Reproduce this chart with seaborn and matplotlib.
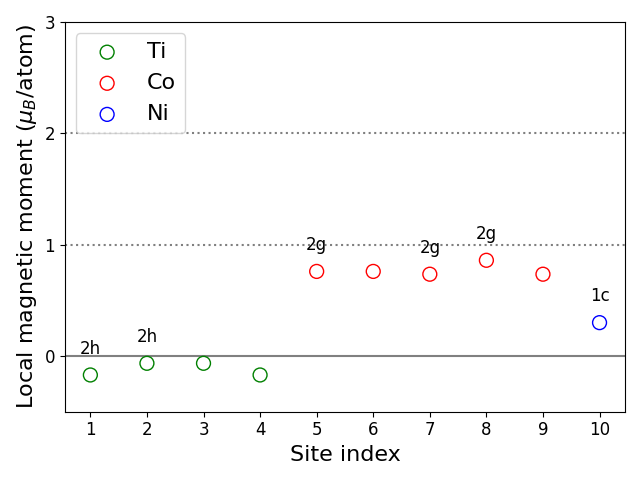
import matplotlib
matplotlib.use("Agg")
import matplotlib.pyplot as plt
import seaborn as sns
import pandas as pd

sites = [1, 2, 3, 4, 5, 6, 7, 8, 9, 10]
moments = [-0.17, -0.065, -0.065, -0.17, 0.76, 0.76, 0.735, 0.86, 0.735, 0.30]
elements = ["Ti", "Ti", "Ti", "Ti", "Co", "Co", "Co", "Co", "Co", "Ni"]
elem_colors = {"Ti": "green", "Co": "red", "Ni": "blue"}

label_sites = [1, 2, 5, 7, 8, 10]
label_texts = ["2h", "2h", "2g", "2g", "2g", "1c"]

df = pd.DataFrame({"site": sites, "moment": moments, "element": elements})

fig, ax = plt.subplots(figsize=(6.4, 4.8), dpi=100)

ax.axhline(0, color="gray", lw=1.5, zorder=1)
ax.axhline(1, color="gray", lw=1.5, ls=":", zorder=1)
ax.axhline(2, color="gray", lw=1.5, ls=":", zorder=1)

for el in ["Ti", "Co", "Ni"]:
    sub = df[df["element"] == el]
    sns.scatterplot(data=sub, x="site", y="moment", ax=ax, s=100,
                    facecolors="none", edgecolor=elem_colors[el],
                    linewidth=1.0, label=el, zorder=3)

for s, t in zip(label_sites, label_texts):
    m = moments[sites.index(s)]
    ax.text(s, m + 0.235, t, ha="center", va="center", fontsize=12)

ax.set_xlim(0.55, 10.45)
ax.set_ylim(-0.5, 3)
ax.set_xticks(sites)
ax.set_yticks([0, 1, 2, 3])
ax.tick_params(labelsize=12)
ax.set_xlabel("Site index", fontsize=16)
ax.set_ylabel(r"Local magnetic moment ($\mu_B$/atom)", fontsize=16)
ax.legend(loc="upper left", fontsize=16)

fig.tight_layout()
fig.savefig("out.png", dpi=100)
